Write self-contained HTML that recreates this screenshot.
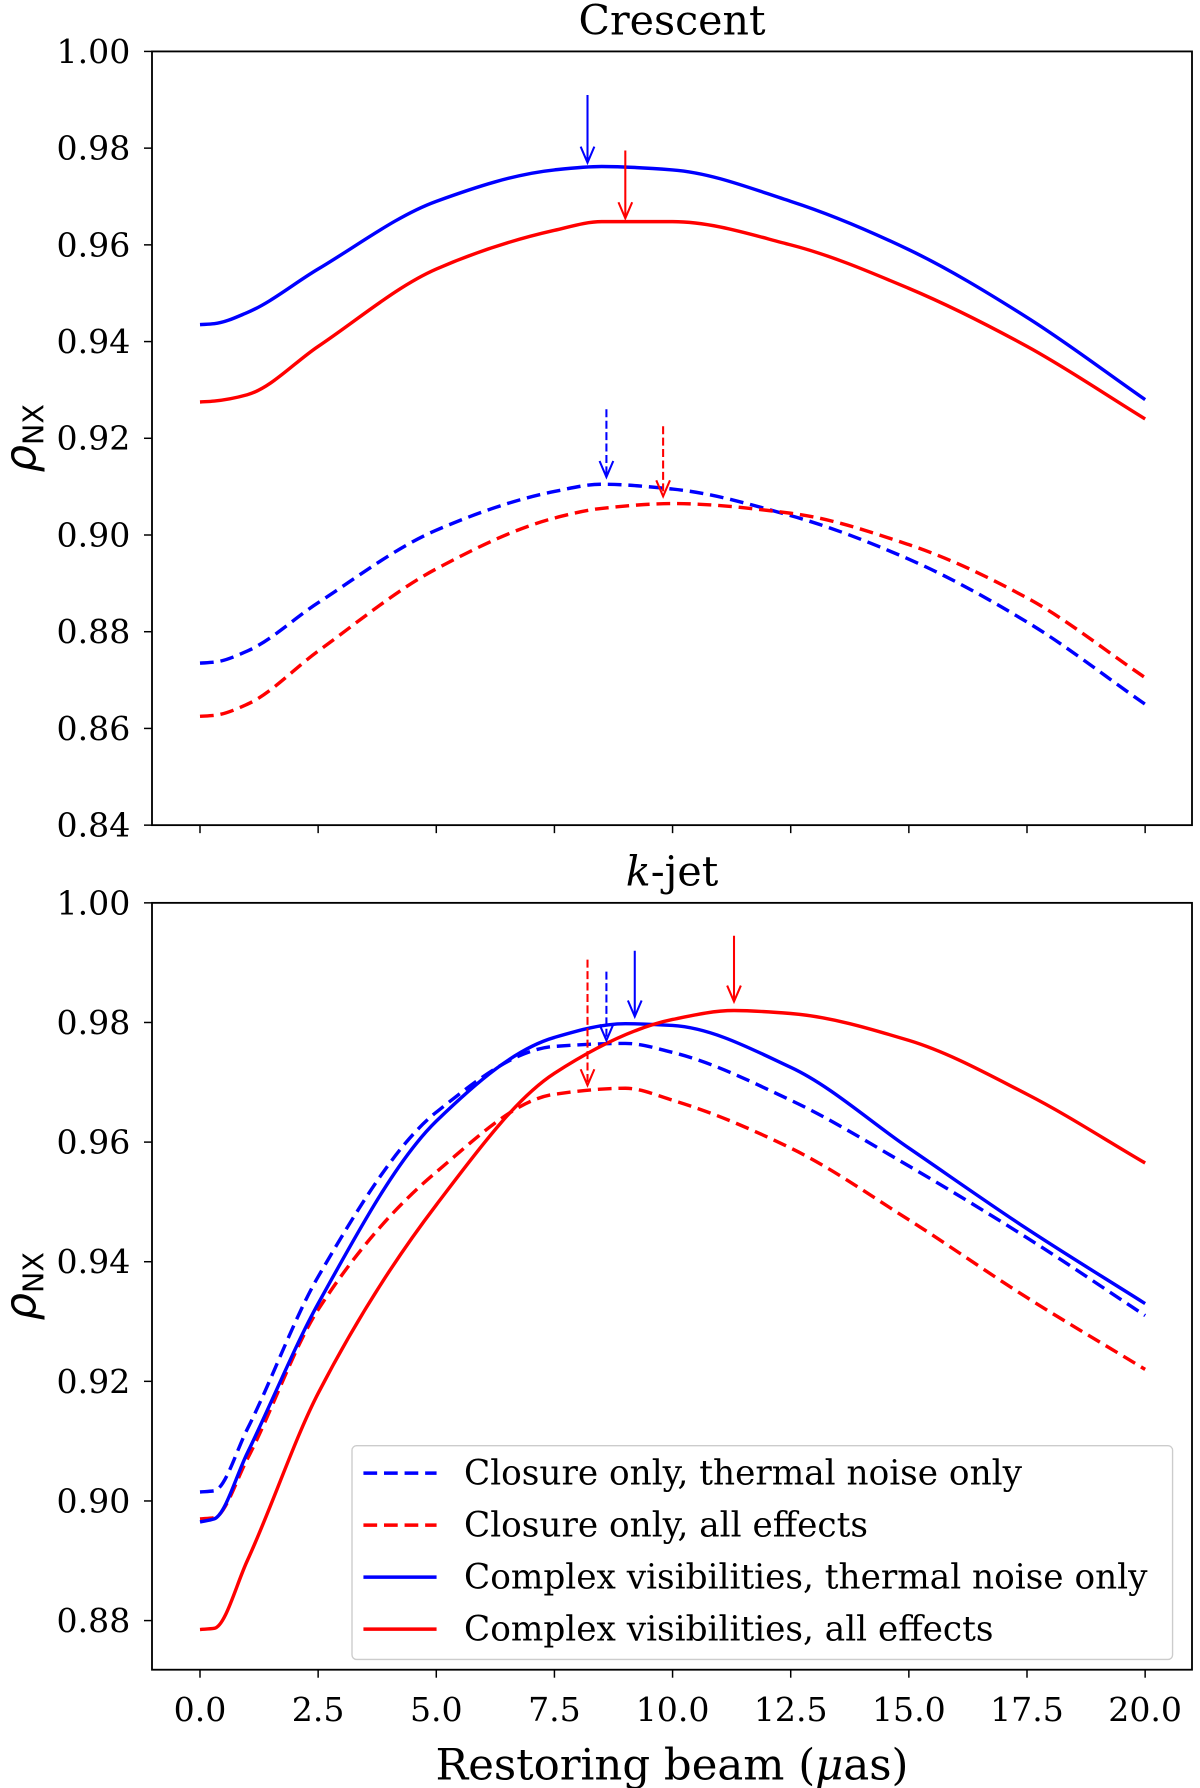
<!DOCTYPE html>
<html><head><meta charset="utf-8"><style>
html,body{margin:0;padding:0;background:#fff;}
svg{display:block;font-family:"DejaVu Serif","Liberation Serif",serif;}
</style></head><body>
<svg id="chart" width="1200" height="1788" viewBox="0 0 1050 1564.5">
</svg>
<script>
// ---- data ----
const xTicks = [0, 2.5, 5, 7.5, 10, 12.5, 15, 17.5, 20];
const xTickLabels = ["0.0","2.5","5.0","7.5","10.0","12.5","15.0","17.5","20.0"];
const topYTicks = [0.84,0.86,0.88,0.90,0.92,0.94,0.96,0.98,1.00];
const botYTicks = [0.88,0.90,0.92,0.94,0.96,0.98,1.00];

const crescentX = [0, 0.3, 1, 2.5, 5, 7.5, 8.5, 10, 12.5, 15, 17.5, 20];
const crescentBlueSolid = [0.9435,0.9437,0.946,0.955,0.969,0.9755,0.9762,0.9755,0.969,0.959,0.945,0.928];
const crescentRedSolid  = [0.9275,0.9277,0.929,0.939,0.955,0.963,0.9648,0.9648,0.960,0.951,0.939,0.924];
const crescentBlueDash  = [0.8735,0.8737,0.876,0.886,0.901,0.909,0.9105,0.9095,0.904,0.895,0.882,0.865];
const crescentRedDash   = [0.8625,0.8627,0.865,0.876,0.893,0.9035,0.9055,0.9065,0.9045,0.898,0.887,0.8705];
const crescentArrowX  = [8.2, 9.0, 8.6, 9.8];
const crescentArrowY0 = [0.991, 0.9795, 0.926, 0.9225];
const crescentArrowY1 = [0.977, 0.9655, 0.912, 0.908];

const jetX = [0, 0.3, 1, 2.5, 5, 7.5, 9, 10, 12.5, 15, 17.5, 20];
const jetBlueSolid = [0.8965,0.897,0.908,0.933,0.9635,0.9775,0.9798,0.9795,0.9725,0.959,0.9455,0.933];
const jetBlueDash  = [0.9015,0.9017,0.912,0.9375,0.965,0.976,0.9765,0.975,0.967,0.956,0.944,0.931];
const jetRedDash   = [0.897,0.8972,0.907,0.932,0.955,0.968,0.969,0.967,0.959,0.947,0.934,0.922];
const jetRedSolidX = [0, 0.3, 1, 2.5, 5, 7.5, 10, 11.3, 12.5, 15, 17.5, 20];
const jetRedSolid  = [0.8785,0.8787,0.89,0.918,0.9495,0.9715,0.9805,0.982,0.9815,0.977,0.968,0.9565];
const jetArrowX  = [8.6, 9.2, 11.3, 8.2];
const jetArrowY0 = [0.9885, 0.992, 0.9945, 0.9905];
const jetArrowY1 = [0.977, 0.981, 0.9835, 0.9695];

// ---- drawing ----
const NS="http://www.w3.org/2000/svg";
const svg=document.getElementById('chart');
function mk(tag,attrs,parent){const e=document.createElementNS(NS,tag);for(const k in attrs)e.setAttribute(k,attrs[k]);(parent||svg).appendChild(e);return e;}
const X0=133,X1=1043;
function xs(v){return 175+(v/20)*(1002-175);}
function makeY(top,bot,vmin,vmax){return v=>bot-(v-vmin)/(vmax-vmin)*(bot-top);}
// monotone cubic (Fritsch-Carlson)
function pathFrom(xsArr,ysArr,xf,yf){
  const px=xsArr.map(xf), py=ysArr.map(yf), n=px.length;
  const d=[],m=new Array(n);
  for(let i=0;i<n-1;i++)d.push((py[i+1]-py[i])/(px[i+1]-px[i]));
  m[0]=d[0];m[n-1]=d[n-2];
  for(let i=1;i<n-1;i++){
    if(d[i-1]*d[i]<=0)m[i]=0;
    else{const h0=px[i]-px[i-1],h1=px[i+1]-px[i];const w1=2*h1+h0,w2=h1+2*h0;m[i]=(w1+w2)/(w1/d[i-1]+w2/d[i]);}
  }
  let s='M'+px[0]+','+py[0];
  for(let i=0;i<n-1;i++){
    const h=(px[i+1]-px[i])/3;
    s+=` C${px[i]+h},${py[i]+m[i]*h} ${px[i+1]-h},${py[i+1]-m[i+1]*h} ${px[i+1]},${py[i+1]}`;
  }
  return s;
}
function axes(name,top,bot,vmin,vmax,yTicks,showXLabels,title,italicK){
  const yf=makeY(top,bot,vmin,vmax);
  const g=mk('g',{});
  
  
  yTicks.forEach(t=>{
    const y=yf(t);
    const tk=mk('line',{x1:X0-7,x2:X0,y1:y,y2:y,stroke:'#000','stroke-width':1.3},g);
    
    const tx=mk('text',{x:X0-19,y:y+10,'text-anchor':'end','font-size':29},g);
    tx.textContent=t.toFixed(2);
    
  });
  xTicks.forEach((t,i)=>{
    const x=xs(t);
    const tk=mk('line',{x1:x,x2:x,y1:bot,y2:bot+7,stroke:'#000','stroke-width':1.3},g);
    
    if(showXLabels){
      const tx=mk('text',{x:x,y:bot+45,'text-anchor':'middle','font-size':29},g);
      tx.textContent=xTickLabels[i];
      
    }
  });
  const ttl=mk('text',{x:588,y:top-15,'text-anchor':'middle','font-size':36},g);
  if(italicK){ttl.innerHTML='<tspan font-style="italic">k</tspan>-jet';}else ttl.textContent=title;
  
  const cy=(top+bot)/2;
  const yl=mk('text',{x:0,y:0,transform:`translate(31,${cy}) rotate(-90)`,'text-anchor':'middle','font-size':38,'font-family':'DejaVu Sans, Liberation Sans, sans-serif'},g);
  yl.innerHTML='<tspan font-style="italic">ρ</tspan><tspan font-size="25" dy="7">NX</tspan>';
  
  return yf;
}
function series(name,xa,ya,yf,color,dash){
  const p=mk('path',{d:pathFrom(xa,ya,xs,yf),fill:'none',stroke:color,'stroke-width':3,'stroke-dasharray':dash?'12,6':'none'});
  
}
function arrow(name,x,y0,y1,yf,color,dash){
  const X=xs(x),A=yf(y0),B=yf(y1);
  const g=mk('g',{stroke:color,'stroke-width':1.8,fill:'none'});
  
  mk('line',{x1:X,x2:X,y1:A,y2:B,'stroke-dasharray':dash?'7,3':'none'},g);
  mk('path',{d:`M${X-6},${B-14} L${X},${B} L${X+6},${B-14}`},g);
}
function frame(name,top,bot){
  const r=mk('rect',{x:X0,y:top,width:X1-X0,height:bot-top,fill:'none',stroke:'#000','stroke-width':1.6});
  
}
const B='#0000ff',R='#ff0000';
// top
const yT=axes('crescent',45,722,0.84,1.00,topYTicks,false,'Crescent',false);
series('crescent-closure-thermal',crescentX,crescentBlueDash,yT,B,true);
series('crescent-closure-all',crescentX,crescentRedDash,yT,R,true);
series('crescent-complex-thermal',crescentX,crescentBlueSolid,yT,B,false);
series('crescent-complex-all',crescentX,crescentRedSolid,yT,R,false);
arrow('crescent-arrow-complex-thermal',crescentArrowX[0],crescentArrowY0[0],crescentArrowY1[0],yT,B,false);
arrow('crescent-arrow-complex-all',crescentArrowX[1],crescentArrowY0[1],crescentArrowY1[1],yT,R,false);
arrow('crescent-arrow-closure-thermal',crescentArrowX[2],crescentArrowY0[2],crescentArrowY1[2],yT,B,true);
arrow('crescent-arrow-closure-all',crescentArrowX[3],crescentArrowY0[3],crescentArrowY1[3],yT,R,true);
frame('crescent',45,722);
// bottom
const yB=axes('kjet',790,1461,0.88-(43/104.7)*0.02,1.00,botYTicks,true,'k-jet',true);
series('kjet-closure-thermal',jetX,jetBlueDash,yB,B,true);
series('kjet-closure-all',jetX,jetRedDash,yB,R,true);
series('kjet-complex-thermal',jetX,jetBlueSolid,yB,B,false);
series('kjet-complex-all',jetRedSolidX,jetRedSolid,yB,R,false);
arrow('kjet-arrow-closure-thermal',jetArrowX[0],jetArrowY0[0],jetArrowY1[0],yB,B,true);
arrow('kjet-arrow-complex-thermal',jetArrowX[1],jetArrowY0[1],jetArrowY1[1],yB,B,false);
arrow('kjet-arrow-complex-all',jetArrowX[2],jetArrowY0[2],jetArrowY1[2],yB,R,false);
arrow('kjet-arrow-closure-all',jetArrowX[3],jetArrowY0[3],jetArrowY1[3],yB,R,true);
frame('kjet',790,1461);
// x label
const xl=mk('text',{x:588,y:1557,'text-anchor':'middle','font-size':38});
xl.innerHTML='Restoring beam (<tspan font-style="italic">μ</tspan>as)';

// legend
const lg=mk('g',{});

mk('rect',{x:308,y:1265,width:718,height:187,rx:4,fill:'#fff','fill-opacity':0.8,stroke:'#ccc','stroke-width':1.2},lg);
const legendLabels=['Closure only, thermal noise only','Closure only, all effects','Complex visibilities, thermal noise only','Complex visibilities, all effects'];
const legendColors=[B,R,B,R];
const legendDash=[true,true,false,false];
legendLabels.forEach((t,i)=>{
  const y=1289+i*45.5;
  const e=mk('g',{},lg);
  
  mk('line',{x1:318,x2:382,y1:y,y2:y,stroke:legendColors[i],'stroke-width':3,'stroke-dasharray':legendDash[i]?'12,6':'none'},e);
  const tx=mk('text',{x:406,y:y+10,'font-size':30},e);
  tx.textContent=t;
});
</script>
</body></html>
